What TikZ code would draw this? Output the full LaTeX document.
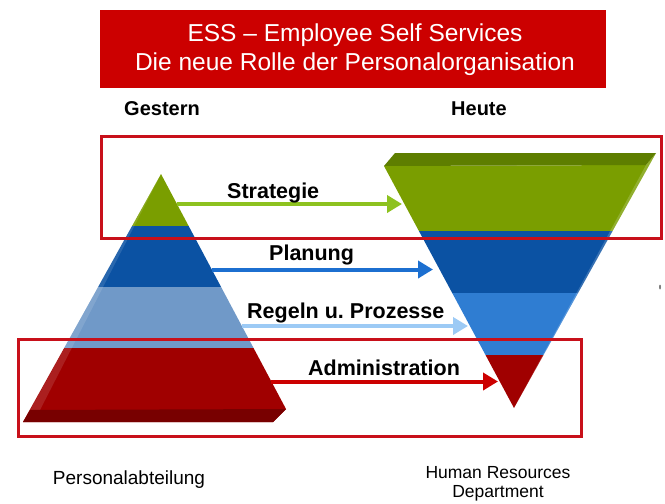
\documentclass[tikz,border=0pt]{standalone}
\usepackage{fontspec}
\setmainfont{Liberation Sans}
\usetikzlibrary{arrows.meta}
\definecolor{titlered}{HTML}{CC0000}
\definecolor{boxred}{HTML}{C8101A}
\definecolor{pgreen}{HTML}{7A9E00}
\definecolor{pgreentop}{HTML}{5E7E00}
\definecolor{pdblue}{HTML}{0B52A3}
\definecolor{plblue}{HTML}{7099C8}
\definecolor{pmblue}{HTML}{2F7DD2}
\definecolor{pred}{HTML}{A00000}
\definecolor{pdred}{HTML}{780000}
\definecolor{agreen}{HTML}{8DC21F}
\definecolor{ablue}{HTML}{1C6FD0}
\definecolor{alblue}{HTML}{9CCAF5}
\definecolor{ared}{HTML}{CC0000}
\frenchspacing
\begin{document}
\begin{tikzpicture}[x=1pt,y=-1pt,
  flowarrow/.style={line width=4pt,-{Triangle[length=15pt,width=17pt]}},
  lbl/.style={anchor=base west,inner sep=0pt,font=\fontsize{21.5}{24}\selectfont\bfseries},
  head/.style={anchor=base,inner sep=0pt,font=\fontsize{20}{24}\selectfont\bfseries},
  foot/.style={anchor=base,inner sep=0pt,align=center,font=\fontsize{19}{17}\selectfont},
  titletext/.style={anchor=base,inner sep=0pt,text=white,font=\fontsize{24.5}{28}\selectfont},
  redbox/.style={draw=boxred,line width=3pt,inner sep=0pt,anchor=north west}]
\useasboundingbox (0,0) rectangle (665,504);

% title
\node[fill=titlered,minimum width=506pt,minimum height=78pt,inner sep=0pt,anchor=north west] (title) at (100,10) {};
\node[titletext] (t1) at (355,41) {ESS – Employee Self Services};
\node[titletext] (t2) at (355,70) {Die neue Rolle der Personalorganisation};

\node[head] (gestern) at (162,115) {Gestern};
\node[head] (heute) at (479,115) {Heute};

% left pyramid
\begin{scope}
\clip (161,174) -- (286,409) -- (273,422) -- (23,422) -- cycle;
\fill[pgreen] (0,150) rectangle (300,226);
\fill[pdblue] (0,226) rectangle (300,287);
\fill[plblue] (0,287) rectangle (300,348);
\fill[pred] (0,348) rectangle (300,423);
\end{scope}
\fill[white,opacity=.12] (161,174) -- (30,410) -- (40,410) -- cycle;
\fill[pdred] (30,410) -- (286,409) -- (273,422) -- (23,422) -- cycle;

% right pyramid
\begin{scope}
\clip (384,166) -- (646,165) -- (656,153) -- (514,408) -- cycle;
\fill[pgreen] (370,140) rectangle (665,231);
\fill[pdblue] (370,231) rectangle (665,293);
\fill[pmblue] (370,293) rectangle (665,355);
\fill[pred] (370,355) rectangle (665,410);
\end{scope}
\fill[white,opacity=.18] (646,165) -- (656,153) -- (514,408) -- cycle;
\fill[pgreentop] (395,153) -- (656,153) -- (646,165) -- (384,166) -- cycle;

% arrows
\coordinate (s1) at (176.5,204); \coordinate (e1) at (402,204);
\coordinate (s2) at (212,269.5); \coordinate (e2) at (433,269.5);
\coordinate (s3) at (242,326);   \coordinate (e3) at (468,326);
\coordinate (s4) at (271,381.5); \coordinate (e4) at (498,381.5);
\draw[flowarrow,agreen] (s1) -- (e1);
\draw[flowarrow,ablue] (s2) -- (e2);
\draw[flowarrow,alblue] (s3) -- (e3);
\draw[flowarrow,ared] (s4) -- (e4);

\node[lbl] (strat) at (227,198) {Strategie};
\node[lbl] (plan) at (269,260) {Planung};
\node[lbl] (regeln) at (247,318) {Regeln u.\ Prozesse};
\node[lbl] (admin) at (308,375) {Administration};

% red frames
\node[redbox,minimum width=560pt,minimum height=102pt] (topbox) at (100,135) {};
\node[redbox,minimum width=563pt,minimum height=97pt] (botbox) at (17,338) {};

\fill[gray] (660,287) ellipse (1pt and 2.5pt);

% footers
\node[foot] (pers) at (129,484) {Personalabteilung};
\node[foot,anchor=north,font=\fontsize{17.5}{19}\selectfont] (hr) at (498,466) {Human Resources\\Department};
\end{tikzpicture}
\end{document}
